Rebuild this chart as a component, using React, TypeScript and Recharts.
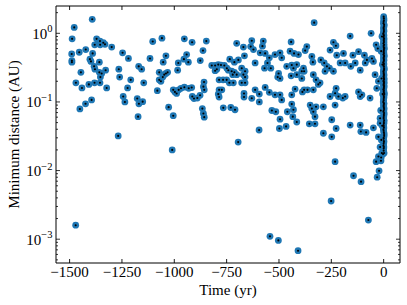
import React from 'react';
import { ScatterChart, Scatter, XAxis, YAxis, ReferenceLine } from 'recharts';

// ---- data (time in yr, minimum distance in AU) ----
const earlyTimes = [-1471, -1392, -1478, -1488, -1371, -1355, -1380, -1354, -1331, -1339, -1299, -1423, -1454, -1490, -1489, -1489, -1390, -1403, -1398, -1358, -1383, -1379, -1446, -1358, -1347, -1328, -1353, -1470, -1441, -1408, -1381, -1355, -1323, -1395, -1424, -1451, -1268, -1247, -1219, -1265, -1261, -1208, -1223, -1244, -1236, -1170, -1156, -1146, -1177, -1169, -1151, -1173, -1116, -1103, -1059, -1081, -1072, -1072, -1064, -1055, -1048, -1040, -1032, -1053, -1040, -1027, -1005, -1005, -1010];
const earlyDist = [0.0016, 1.6, 1.22, 0.83, 0.83, 0.77, 0.68, 0.68, 0.69, 0.73, 0.63, 0.58, 0.53, 0.5, 0.4, 0.38, 0.51, 0.42, 0.39, 0.38, 0.33, 0.3, 0.27, 0.27, 0.26, 0.29, 0.23, 0.19, 0.16, 0.18, 0.19, 0.19, 0.16, 0.107, 0.094, 0.079, 0.032, 0.52, 0.43, 0.3, 0.23, 0.21, 0.16, 0.12, 0.1, 0.33, 0.3, 0.19, 0.112, 0.094, 0.101, 0.061, 0.43, 0.76, 0.85, 0.146, 0.27, 0.21, 0.2, 0.23, 0.25, 0.26, 0.27, 0.38, 0.47, 0.084, 0.063, 0.15, 0.02];

const middleTimes = [-997, -989, -979, -968, -952, -931, -917, -981, -984, -941, -933, -954, -952, -915, -876, -863, -847, -858, -861, -857, -914, -906, -890, -877, -866, -861, -857, -821, -805, -790, -777, -761, -749, -742, -726, -713, -721, -797, -805, -786, -767, -750, -786, -773, -790, -786, -735, -713, -766, -730, -710, -737, -718];
const middleDist = [0.14, 0.133, 0.15, 0.158, 0.164, 0.158, 0.162, 0.37, 0.29, 0.49, 0.38, 0.42, 0.83, 0.74, 0.4, 0.56, 0.77, 0.195, 0.167, 0.15, 0.12, 0.112, 0.114, 0.125, 0.08, 0.068, 0.06, 0.34, 0.34, 0.35, 0.345, 0.34, 0.31, 0.29, 0.28, 0.27, 0.25, 0.3, 0.285, 0.21, 0.21, 0.21, 0.15, 0.15, 0.13, 0.118, 0.42, 0.38, 0.082, 0.083, 0.077, 0.19, 0.19];

const lateTimes = [-702, -695, -670, -630, -635, -622, -575, -579, -442, -590, -566, -546, -555, -614, -569, -539, -665, -694, -678, -662, -670, -662, -702, -678, -662, -519, -495, -487, -447, -428, -407, -502, -495, -506, -463, -439, -415, -431, -442, -415, -391, -380, -614, -594, -630, -594, -667, -667, -566, -546, -519, -495, -487, -439, -423, -439, -431, -460, -388, -364, -534, -515, -495, -434, -415, -466, -498, -595, -543, -503, -409];
const lateDist = [0.715, 0.026, 0.63, 0.78, 0.64, 0.58, 0.77, 0.65, 0.75, 0.52, 0.51, 0.44, 0.37, 0.37, 0.31, 0.31, 0.47, 0.41, 0.31, 0.28, 0.25, 0.23, 0.25, 0.19, 0.19, 0.49, 0.52, 0.44, 0.55, 0.51, 0.49, 0.26, 0.22, 0.23, 0.33, 0.345, 0.35, 0.31, 0.24, 0.25, 0.22, 0.28, 0.15, 0.13, 0.113, 0.1, 0.133, 0.118, 0.163, 0.138, 0.127, 0.127, 0.107, 0.127, 0.154, 0.093, 0.077, 0.072, 0.14, 0.15, 0.075, 0.072, 0.056, 0.061, 0.051, 0.044, 0.041, 0.039, 0.0011, 0.00096, 0.00068];

const recentTimes = [-332, -160, -60, -240, -228, -256, -367, -375, -343, -338, -300, -284, -271, -259, -383, -391, -240, -280, -224, -192, -184, -208, -147, -157, -136, -120, -92, -88, -112, -80, -56, -49, -36, -28, -336, -323, -312, -304, -336, -380, -227, -232, -256, -216, -195, -184, -232, -120, -112, -104, -65, -41, -25, -33, -351, -343, -323, -336, -328, -288, -355, -328, -288, -248, -248, -227, -160, -112, -109, -84, -49, -17, -25, -17, -17, -9, -25, -232, -144, -108, -251, -73, -36, -13, -12, -22, -31, -8, -12, -6, -10, -5, -14, -7, -11];
const recentDist = [1.43, 0.91, 1.0, 0.74, 0.66, 0.57, 0.64, 0.56, 0.46, 0.38, 0.41, 0.37, 0.33, 0.31, 0.31, 0.28, 0.28, 0.28, 0.48, 0.51, 0.37, 0.37, 0.48, 0.33, 0.37, 0.54, 0.48, 0.37, 0.29, 0.41, 0.43, 0.39, 0.68, 0.6, 0.25, 0.21, 0.18, 0.19, 0.15, 0.15, 0.158, 0.134, 0.12, 0.12, 0.114, 0.12, 0.09, 0.14, 0.12, 0.127, 0.114, 0.25, 0.2, 0.158, 0.09, 0.08, 0.085, 0.072, 0.061, 0.085, 0.048, 0.048, 0.035, 0.031, 0.055, 0.041, 0.046, 0.046, 0.037, 0.036, 0.042, 0.049, 0.031, 0.058, 0.022, 0.018, 0.016, 0.0135, 0.0084, 0.0069, 0.0036, 0.0019, 0.0135, 0.0139, 0.0155, 0.0099, 0.008, 0.9, 0.55, 0.35, 0.22, 0.13, 0.075, 0.045, 0.028];

const columnTimes = [0, 1, -1, 2, 0, 1, -2, 0, 2, 1, -1, 0, 3, 1, 0, -1, 2, 0, 1, -2, 0, 1, 2, -1, 0, 1, 0, 2, -1, 1, 0, 2, 1, -1, 0, 3, 1, 0, -2, 1, 0, 2, -1, 1, 0, 2, 1, 0, -1, 1, 2, 0, 1, -1, 0, 2, -3];
const columnDist = [1.75, 1.55, 1.4, 1.28, 1.17, 1.07, 0.98, 0.9, 0.83, 0.77, 0.71, 0.66, 0.61, 0.57, 0.53, 0.49, 0.46, 0.43, 0.4, 0.375, 0.35, 0.325, 0.3, 0.28, 0.26, 0.245, 0.23, 0.215, 0.2, 0.19, 0.18, 0.17, 0.16, 0.15, 0.14, 0.13, 0.12, 0.11, 0.1, 0.093, 0.086, 0.079, 0.072, 0.066, 0.06, 0.054, 0.049, 0.044, 0.04, 0.036, 0.032, 0.029, 0.026, 0.023, 0.021, 0.018, 0.0175];

const columnTimes2 = [1, 0, 2, 0, 1, 0, 1, 0, 0, 1, 2, 0, 1, 0, 1, 2, 0, 1, 0, 1, 0, 2, 1, 0, 1, 0, 1, 0, 2, 1, 0, 1, 0, 1, 2, 0, 1, 0, 1, 0, 1, 0, 2, 1, 0, 1, 0, 1, 0, 2, 0, 1, 0, 1, 0];
const columnDist2 = [1.65, 1.47, 1.34, 1.22, 1.12, 1.02, 0.94, 0.86, 0.8, 0.74, 0.68, 0.63, 0.59, 0.55, 0.51, 0.475, 0.445, 0.415, 0.385, 0.36, 0.335, 0.31, 0.29, 0.27, 0.252, 0.237, 0.222, 0.207, 0.195, 0.185, 0.175, 0.165, 0.155, 0.145, 0.135, 0.125, 0.115, 0.105, 0.096, 0.089, 0.082, 0.075, 0.069, 0.063, 0.057, 0.051, 0.046, 0.042, 0.038, 0.034, 0.03, 0.027, 0.0245, 0.022, 0.0195];

const xTicks = [-1500, -1250, -1000, -750, -500, -250, 0];
const yMajorTicks = [0.001, 0.01, 0.1, 1];
const yMinorTicks = [
  0.0005, 0.0006, 0.0007, 0.0008, 0.0009,
  0.002, 0.003, 0.004, 0.005, 0.006, 0.007, 0.008, 0.009,
  0.02, 0.03, 0.04, 0.05, 0.06, 0.07, 0.08, 0.09,
  0.2, 0.3, 0.4, 0.5, 0.6, 0.7, 0.8, 0.9,
  2,
];
const xDomain = [-1565, 78];
const yDomain = [0.00045, 2.5];

const build = (ts: number[], ds: number[]) => ts.map((t, i) => ({ t, d: ds[i] }));
const points = [
  ...build(earlyTimes, earlyDist),
  ...build(middleTimes, middleDist),
  ...build(lateTimes, lateDist),
  ...build(recentTimes, recentDist),
  ...build(columnTimes, columnDist),
  ...build(columnTimes2, columnDist2),
];

// ---- layout ----
const W = 407;
const H = 305;
const MARGIN = { top: 6, right: 7, bottom: 0, left: 0 };
const Y_AXIS_W = 56;
const X_AXIS_H = 42;
const PLOT_TOP = MARGIN.top;
const PLOT_RIGHT = W - MARGIN.right;
const FONT = "'Liberation Serif', 'Times New Roman', 'DejaVu Serif', serif";
const AXIS_COLOR = '#000';

const fmtX = (v: number) => (v < 0 ? `\u2212${Math.abs(v)}` : `${v}`);

const XTick = (props: any) => {
  const { x, y, payload } = props;
  return (
    <g>
      <line x1={x} x2={x} y1={y} y2={y - 4} stroke={AXIS_COLOR} strokeWidth={0.9} />
      <line x1={x} x2={x} y1={PLOT_TOP} y2={PLOT_TOP + 4} stroke={AXIS_COLOR} strokeWidth={0.9} />
      <text x={x} y={y + 14} textAnchor="middle" fontFamily={FONT} fontSize={15} fill="#000">
        {fmtX(payload.value)}
      </text>
    </g>
  );
};

const YTick = (props: any) => {
  const { x, y, payload } = props;
  const v = payload.value as number;
  const e = Math.log10(v);
  const major = Math.abs(e - Math.round(e)) < 1e-6;
  const len = major ? 4 : 2;
  const exp = Math.round(e);
  return (
    <g>
      <line x1={x} x2={x + len} y1={y} y2={y} stroke={AXIS_COLOR} strokeWidth={0.8} />
      <line x1={PLOT_RIGHT} x2={PLOT_RIGHT - len} y1={y} y2={y} stroke={AXIS_COLOR} strokeWidth={0.8} />
      {major && (
        <text x={x - 3.5} y={y + 5.5} textAnchor="end" fontFamily={FONT} fontSize={15} fill="#000">
          10
          <tspan dy={-6.5} fontSize={10.5}>
            {exp < 0 ? `\u2212${Math.abs(exp)}` : `${exp}`}
          </tspan>
        </text>
      )}
    </g>
  );
};

const BlueDisc = (props: any) => {
  const { cx, cy } = props;
  if (cx == null || cy == null) return <g />;
  return <circle cx={cx} cy={cy} r={3.4} fill="#1f77b4" />;
};

const BlackCore = (props: any) => {
  const { cx, cy } = props;
  if (cx == null || cy == null) return <g />;
  return <circle cx={cx} cy={cy} r={1.05} fill="#000" />;
};

const XLabel = (props: any) => {
  const vb = props.viewBox || {};
  return (
    <text x={vb.x + vb.width / 2} y={vb.y + 32} textAnchor="middle" fontFamily={FONT} fontSize={15} fill="#000">
      Time (yr)
    </text>
  );
};

const YLabel = (props: any) => {
  const vb = props.viewBox || {};
  const cx = 14;
  const cy = vb.y + vb.height / 2;
  return (
    <text
      x={cx}
      y={cy}
      textAnchor="middle"
      dominantBaseline="central"
      transform={`rotate(-90 ${cx} ${cy})`}
      fontFamily={FONT}
      fontSize={15}
      fill="#000"
    >
      Minimum distance (AU)
    </text>
  );
};

export default function App() {
  return (
    <div style={{ position: 'absolute', left: 0, top: 0, width: W, height: H, background: '#fff' }}>
      <ScatterChart width={W} height={H} margin={MARGIN}>
        <XAxis
          dataKey="t"
          type="number"
          domain={xDomain}
          allowDataOverflow
          ticks={xTicks}
          interval={0}
          tickSize={0}
          tickMargin={0}
          height={X_AXIS_H}
          tick={<XTick />}
          tickLine={false}
          axisLine={{ stroke: AXIS_COLOR, strokeWidth: 1 }}
          label={{ content: <XLabel /> }}
        />
        <YAxis
          dataKey="d"
          type="number"
          scale="log"
          domain={yDomain}
          allowDataOverflow
          ticks={[...yMajorTicks, ...yMinorTicks]}
          interval={0}
          tickSize={0}
          tickMargin={0}
          width={Y_AXIS_W}
          tick={<YTick />}
          tickLine={false}
          axisLine={{ stroke: AXIS_COLOR, strokeWidth: 1 }}
          label={{ content: <YLabel /> }}
        />
        <ReferenceLine y={yDomain[1]} stroke={AXIS_COLOR} strokeWidth={1} ifOverflow="visible" />
        <ReferenceLine x={xDomain[1]} stroke={AXIS_COLOR} strokeWidth={1} ifOverflow="visible" />
        <Scatter data={points} shape={<BlueDisc />} isAnimationActive={false} />
        <Scatter data={points} shape={<BlackCore />} isAnimationActive={false} />
      </ScatterChart>
    </div>
  );
}
